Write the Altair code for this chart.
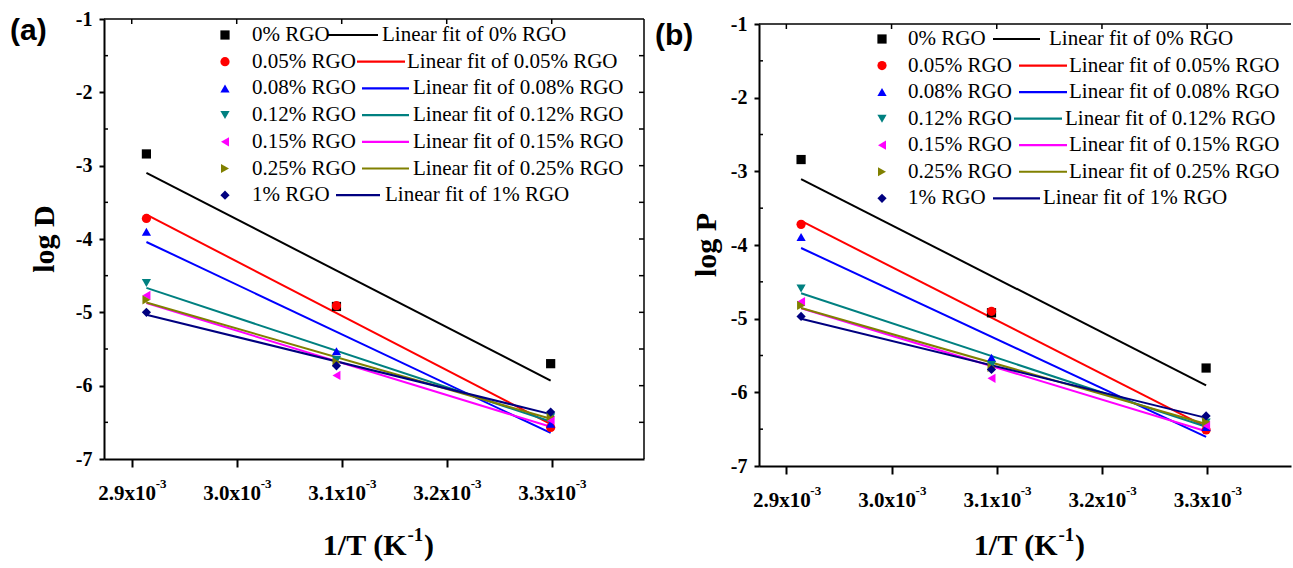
import altair as alt
import pandas as pd

# ---------------- data ----------------
inv_T = [2.914e-3, 3.095e-3, 3.299e-3]          # 1/T (K^-1)
series = ["0% RGO", "0.05% RGO", "0.08% RGO", "0.12% RGO",
          "0.15% RGO", "0.25% RGO", "1% RGO"]

# panel (a): log D
logD_0 = [-2.84, -4.92, -5.70]
logD_005 = [-3.72, -4.91, -6.57]
logD_008 = [-3.90, -5.53, -6.52]
logD_012 = [-4.60, -5.65, -6.43]
logD_015 = [-4.77, -5.86, -6.47]
logD_025 = [-4.83, -5.68, -6.42]
logD_1 = [-5.00, -5.73, -6.36]

# panel (b): log P
logP_0 = [-2.84, -4.92, -5.67]
logP_005 = [-3.72, -4.90, -6.51]
logP_008 = [-3.89, -5.53, -6.47]
logP_012 = [-4.59, -5.63, -6.41]
logP_015 = [-4.77, -5.81, -6.45]
logP_025 = [-4.82, -5.66, -6.40]
logP_1 = [-4.97, -5.69, -6.32]

x_ticks = [2.9e-3, 3.0e-3, 3.1e-3, 3.2e-3, 3.3e-3]
y_ticks = [-7, -6, -5, -4, -3, -2, -1]
y_minor = [-6.5, -5.5, -4.5, -3.5, -2.5, -1.5]
y_all_half = [-6.5, -6, -5.5, -5, -4.5, -4, -3.5, -3, -2.5, -2, -1.5]

# ---------------- styles ----------------
colors = ["#000000", "#FF0000", "#0000FF", "#008080", "#FF00FF", "#808000", "#000080"]
shapes = ["square", "circle", "triangle-up", "triangle-down",
          "triangle-left", "triangle-right", "diamond"]
SERIF = "Liberation Serif"
SANS = "Liberation Sans"
LEG_FS = 21
MSIZE = 85

# legend layout (pixels inside each plot area)
leg_a = dict(mx=121, lx=148, y0=16, dy=26.7,
             l0=[224, 253, 258, 258, 258, 258, 232],
             l1=[274, 301, 305, 305, 305, 305, 276],
             fx=[278, 303, 309, 309, 309, 309, 281])
leg_b = dict(mx=123, lx=149, y0=15, dy=26.55,
             l0=[234, 260, 260, 255, 260, 260, 234],
             l1=[281, 308, 308, 303, 308, 308, 281],
             fx=[290, 310, 310, 306, 310, 310, 284])


def make_df(cols):
    rows = []
    for s, vals in zip(series, cols):
        for x, v in zip(inv_T, vals):
            rows.append({"series": s, "invT": x, "val": v})
    return pd.DataFrame(rows)


df_a = make_df([logD_0, logD_005, logD_008, logD_012, logD_015, logD_025, logD_1])
df_b = make_df([logP_0, logP_005, logP_008, logP_012, logP_015, logP_025, logP_1])
one = pd.DataFrame({"k": [0]})


def txt(x, y, s, size, weight="normal", font=SERIF, align="left",
        baseline="alphabetic", angle=0):
    return alt.Chart(one).mark_text(
        text=s, fontSize=size, fontWeight=weight, font=font, align=align,
        baseline=baseline, angle=angle, color="black"
    ).encode(x=alt.value(x), y=alt.value(y))


def rule(x, x2, y, y2, w=1.5, color="black", opacity=1):
    enc = dict(x=alt.value(x), y=alt.value(y))
    if x2 is not None:
        enc["x2"] = alt.value(x2)
    if y2 is not None:
        enc["y2"] = alt.value(y2)
    return alt.Chart(one).mark_rule(color=color, strokeWidth=w,
                                    opacity=opacity).encode(**enc)


def panel(df, ytitle, tag, W, H, xdom, leg, right_frame, tag_dx, ytitle_dx,
          title_dy, anchor=False):
    xs = alt.Scale(domain=xdom, nice=False, zero=False)
    ys = alt.Scale(domain=[-7, -1], nice=False, zero=False)
    cs = alt.Scale(domain=series, range=colors)
    ss = alt.Scale(domain=series, range=shapes)
    xaxis = alt.Axis(values=x_ticks, title=None, grid=False,
                     labelExpr="format(datum.value*1000, '.1f') + 'x10'",
                     labelFont=SERIF, labelFontWeight="bold", labelFontSize=21,
                     labelColor="black", labelBaseline="alphabetic",
                     labelPadding=32, labelOffset=-5, labelFlush=False,
                     domainColor="black", domainWidth=2,
                     tickColor="black", tickWidth=2, tickSize=8)
    yaxis = alt.Axis(values=y_ticks, title=None, grid=False,
                     labelExpr="datum.value + ''",
                     labelFont=SERIF, labelFontWeight="bold", labelFontSize=20,
                     labelColor="black", labelPadding=7, labelFlush=False,
                     domainColor="black", domainWidth=2,
                     tickColor="black", tickWidth=2, tickSize=5)
    X = lambda f: alt.X(f, scale=xs, axis=xaxis)
    Y = lambda f: alt.Y(f, scale=ys, axis=yaxis)

    fits = alt.Chart(df).transform_regression(
        "invT", "val", groupby=["series"]
    ).mark_line(strokeWidth=2).encode(
        x=X("invT:Q"), y=Y("val:Q"),
        color=alt.Color("series:N", scale=cs, legend=None),
        detail="series:N",
    )
    pts = alt.Chart(df).mark_point(filled=True, opacity=1, size=MSIZE).encode(
        x=X("invT:Q"), y=Y("val:Q"),
        color=alt.Color("series:N", scale=cs, legend=None),
        shape=alt.Shape("series:N", scale=ss, legend=None),
    )

    layers = [fits, pts]

    # frame and inward ticks
    layers.append(rule(0, W, 0, None))
    if right_frame:
        layers.append(rule(W, None, 0, H))
        layers.append(alt.Chart(pd.DataFrame({"v": y_all_half})).mark_rule(
            color="black", strokeWidth=1.5).encode(
            y=Y("v:Q"), x=alt.value(W - 5), x2=alt.value(W)))
    layers.append(alt.Chart(pd.DataFrame({"v": y_minor})).mark_rule(
        color="black", strokeWidth=1.5).encode(
        y=Y("v:Q"), x=alt.value(0), x2=alt.value(4)))
    layers.append(alt.Chart(pd.DataFrame({"t": x_ticks})).mark_rule(
        color="black", strokeWidth=1.5).encode(
        x=X("t:Q"), y=alt.value(0), y2=alt.value(5)))

    # superscript of tick labels
    layers.append(alt.Chart(pd.DataFrame({"t": x_ticks})).mark_text(
        text="-3", font=SERIF, fontWeight="bold", fontSize=13, align="left",
        baseline="alphabetic", dx=24, color="black").encode(
        x=X("t:Q"), y=alt.value(H + 29)))

    # x title 1/T (K^-1)
    c = W / 2 + 3
    yb = H + title_dy
    layers.append(txt(c + 29.5, yb, "1/T (K", 30, "bold", align="right"))
    layers.append(txt(c + 30.5, yb - 14, "-1", 19, "bold"))
    layers.append(txt(c + 47, yb, ")", 30, "bold"))

    # y title and panel tag
    layers.append(txt(ytitle_dx, H / 2, ytitle, 30, "bold", align="center",
                      baseline="middle", angle=270))
    layers.append(txt(tag_dx, 21, tag, 30, "bold", font=SANS))

    # legend
    for i, s in enumerate(series):
        yy = leg["y0"] + leg["dy"] * i
        layers.append(alt.Chart(one).mark_point(
            filled=True, opacity=1, size=MSIZE, shape=shapes[i], color=colors[i]
        ).encode(x=alt.value(leg["mx"]), y=alt.value(yy)))
        layers.append(txt(leg["lx"], yy, s, LEG_FS, baseline="middle"))
        layers.append(rule(leg["l0"][i], leg["l1"][i], yy, None, w=2.2, color=colors[i]))
        layers.append(txt(leg["fx"][i], yy, "Linear fit of " + s, LEG_FS, baseline="middle"))

    if anchor:
        # invisible anchor fixing the page's top-left and bottom extent
        layers.append(rule(-104, None, -19, 549, w=0.01, opacity=0))

    return alt.layer(*layers).properties(width=W, height=H)


W_A, H_A = 540, 440
W_B, H_B = 532, 442

chart_a = panel(df_a, "log D", "(a)", W_A, H_A, [2.8736e-3, 3.3879e-3], leg_a,
                True, -94, -59, 96, anchor=True)
chart_b = panel(df_b, "log P", "(b)", W_B, H_B, [2.874e-3, 3.3797e-3], leg_b,
                False, -104, -52, 89)

spacer = alt.Chart(one).mark_point(opacity=0).encode(
    x=alt.value(0), y=alt.value(0)).properties(width=W_B, height=1)

right = alt.vconcat(spacer, chart_b, spacing=4, bounds="flush")

chart = alt.hconcat(chart_a, right, spacing=115, bounds="flush").properties(
    padding=0,
    background="white",
).configure_view(stroke=None)

chart.save("out.html", embed_options={"renderer": "svg", "actions": False})
